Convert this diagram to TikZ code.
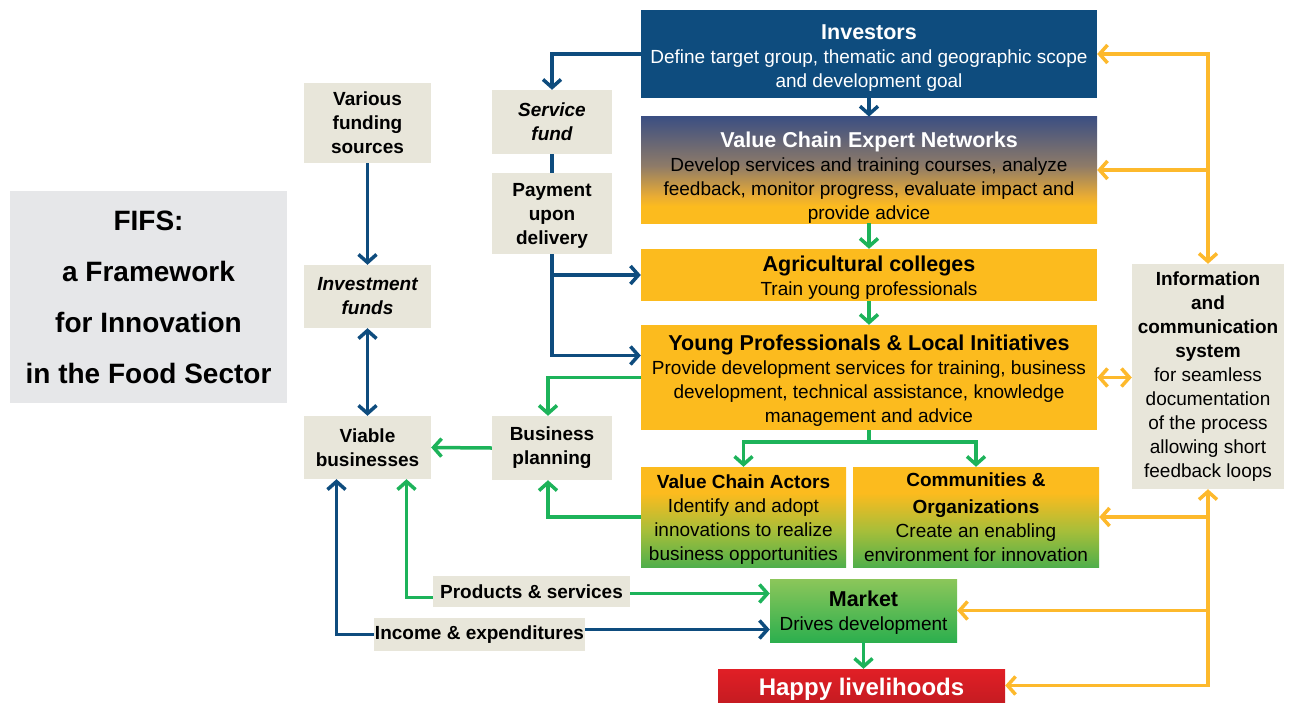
\documentclass[tikz,border=0pt]{standalone}
\usepackage{fontspec}
\setmainfont{Liberation Sans}
\usepackage{xcolor}
\usetikzlibrary{arrows.meta}

\definecolor{fifsblue}{HTML}{0E4C7E}
\definecolor{fifsorange}{HTML}{FCBB1E}
\definecolor{fifsgreen}{HTML}{1DB35A}
\definecolor{fifsyellow}{HTML}{FDB92C}
\definecolor{fifsbeige}{HTML}{E8E6DA}
\definecolor{fifsgray}{HTML}{E6E7E9}
\definecolor{fifsred}{HTML}{E11F26}
\definecolor{markettop}{HTML}{8CC65A}
\definecolor{marketbottom}{HTML}{2CAF4E}

\pgfdeclareverticalshading{expertshade}{100bp}{color(0bp)=(fifsorange); color(33bp)=(fifsorange);
  color(38bp)=(rgb,255:red,232;green,171;blue,53); color(52bp)=(rgb,255:red,142;green,123;blue,104);
  color(75bp)=(rgb,255:red,60;green,79;blue,130); color(100bp)=(rgb,255:red,60;green,79;blue,130)}
\pgfdeclareverticalshading{actorshade}{100bp}{color(0bp)=(rgb,255:red,80;green,175;blue,75);
  color(25bp)=(rgb,255:red,80;green,175;blue,75); color(43bp)=(rgb,255:red,166;green,190;blue,58);
  color(62bp)=(fifsorange); color(100bp)=(fifsorange)}

\newcommand{\ttl}{\fontsize{21.5}{24}\selectfont\bfseries}
\newcommand{\lift}[1]{\rule{0pt}{#1}}

\begin{document}
\begin{tikzpicture}[x=1pt,y=-1pt,>={Straight Barb[length=8pt,width=18pt]}]
    \tikzstyle{every node}+=[inner sep=0pt, align=center, font=\fontsize{19}{24}\selectfont]
    \tikzstyle{greybox}=[fill=fifsbeige, font=\fontsize{19}{24}\selectfont\bfseries]
    \tikzstyle{bigbox}=[minimum width=456, fill=fifsorange]
    \tikzstyle{bluearrow}=[draw=fifsblue, line width=3.5pt]
    \tikzstyle{greenarrow}=[draw=fifsgreen, line width=3.5pt]
    \tikzstyle{yellowarrow}=[draw=fifsyellow, line width=3.5pt]
    \useasboundingbox (0,0) rectangle (1290,702);

    % title
    \node[fill=fifsgray, minimum width=277, minimum height=212, font=\fontsize{28}{51}\selectfont\bfseries] (fifs) at (148.5,297)
        {FIFS:\\a Framework\\for Innovation\\in the Food Sector};

    % main column
    \node[bigbox, fill=fifsblue, text=white, minimum height=88] (inv) at (869,54)
        {{\ttl\lift{22.5pt}Investors}\\Define target group, thematic and geographic scope\\and development goal};
    \node[bigbox, shading=expertshade, minimum height=104] (vcen) at (869,170)
        {{\ttl\color{white}\lift{30.5pt}Value Chain Expert Networks}\\Develop services and training courses, analyze\\feedback, monitor progress, evaluate impact and\\provide advice};
    \node[bigbox, minimum height=52] (agri) at (869,275)
        {{\ttl\lift{20.5pt}Agricultural colleges}\\Train young professionals};
    \node[bigbox, minimum height=105] (yp) at (869,377.5)
        {{\ttl\lift{21.5pt}Young Professionals \& Local Initiatives}\\Provide development services for training, business\\development, technical assistance, knowledge\\management and advice};
    \node[shading=actorshade, minimum width=205, minimum height=100] (vca) at (743.5,517)
        {\textbf{\lift{19.5pt}Value Chain Actors}\\Identify and adopt\\innovations to realize\\business opportunities};
    \node[shading=actorshade, minimum width=246, minimum height=100] (com) at (976,517)
        {\textbf{Communities \&}\\[3pt]\textbf{Organizations}\\Create an enabling\\environment for innovation};
    \node[top color=markettop, bottom color=marketbottom, minimum width=187, minimum height=63] (market) at (863.5,610.5)
        {{\fontsize{21.5}{25}\selectfont\bfseries\lift{19.5pt}Market}\\Drives development};
    \node[top color=fifsred, bottom color=fifsred!88!black, text=white, minimum width=287, minimum height=33, font=\fontsize{24}{24}\selectfont\bfseries] (happy) at (861.5,685.5)
        {\lift{25pt}Happy livelihoods};

    % side boxes
    \node[greybox, minimum width=152, minimum height=225] (info) at (1208,376.5)
        {Information\\and\\communication\\system\\\mdseries for seamless\\\mdseries documentation\\\mdseries of the process\\\mdseries allowing short\\\mdseries feedback loops};
    \node[greybox, minimum width=120, minimum height=64] (sfund) at (552,122) {\itshape Service\\\itshape fund};
    \node[greybox, minimum width=120, minimum height=81] (pay) at (552,213.5) {\lift{17.5pt}Payment\\upon\\delivery};
    \node[greybox, minimum width=127, minimum height=80] (vfs) at (367.5,123) {Various\\funding\\sources};
    \node[greybox, minimum width=127, minimum height=63] (invf) at (367.5,296.5) {\itshape Investment\\\itshape funds};
    \node[greybox, minimum width=127, minimum height=63] (viable) at (367.5,447.5) {Viable\\businesses};
    \node[greybox, minimum width=120, minimum height=64] (bplan) at (552,448) {Business\\planning};
    \node[greybox, minimum width=197, minimum height=31] (prod) at (531.5,591.5) {Products \& services};
    \node[greybox, minimum width=211, minimum height=33] (income) at (479.5,634.5) {Income \& expenditures};

    % money flows
    \draw[bluearrow,->] (inv.west) -| (sfund.north);
    \draw[bluearrow,->] (inv.south) -- (vcen.north);
    \draw[bluearrow] (sfund.south) -- (pay.north);
    \draw[bluearrow,->] (pay.south) |- ([yshift=22pt]yp.west);
    \draw[bluearrow,->] (pay.south |- agri.west) -- (agri.west);
    \draw[bluearrow,->] (vfs.south) -- (invf.north);
    \draw[bluearrow,<->] (invf.south) -- (viable.north);
    \draw[bluearrow,->] (income.west) -| ([xshift=-31pt]viable.south);
    \coordinate (mktinc) at ([yshift=-19pt]market.west);
    \draw[bluearrow,->] (income.east |- mktinc) -- (mktinc);

    % services
    \draw[greenarrow,->] (vcen.south) -- (agri.north);
    \draw[greenarrow,->] (agri.south) -- (yp.north);
    \draw[greenarrow,->] (yp.west) -| ([xshift=-4pt]bplan.north);
    \draw[greenarrow,->] (bplan.west) -- (viable.east);
    \draw[greenarrow,->] (vca.west) -| ([xshift=-4pt]bplan.south);
    \draw[greenarrow,->] (yp.south) -- ++(0,12) -| (vca.north);
    \draw[greenarrow,->] (yp.south) -- ++(0,12) -| (com.north);
    \draw[greenarrow,->] ([yshift=-6pt]prod.west) -| ([xshift=39pt]viable.south);
    \coordinate (mktprod) at ([yshift=17pt]market.west);
    \draw[greenarrow,->] (prod.east |- mktprod) -- (mktprod);
    \draw[greenarrow,->] (market.south) -- (market.south |- happy.north);

    % feedback
    \draw[yellowarrow,<->] (inv.east) -| (info.north);
    \draw[yellowarrow,->] (info.north |- vcen.east) -- (vcen.east);
    \draw[yellowarrow,<->] (yp.east) -- (info.west |- yp.east);
    \draw[yellowarrow,<->] (happy.east) -| (info.south);
    \draw[yellowarrow,->] (info.south |- com.east) -- (com.east);
    \draw[yellowarrow,->] (info.south |- market.east) -- (market.east);
\end{tikzpicture}
\end{document}
